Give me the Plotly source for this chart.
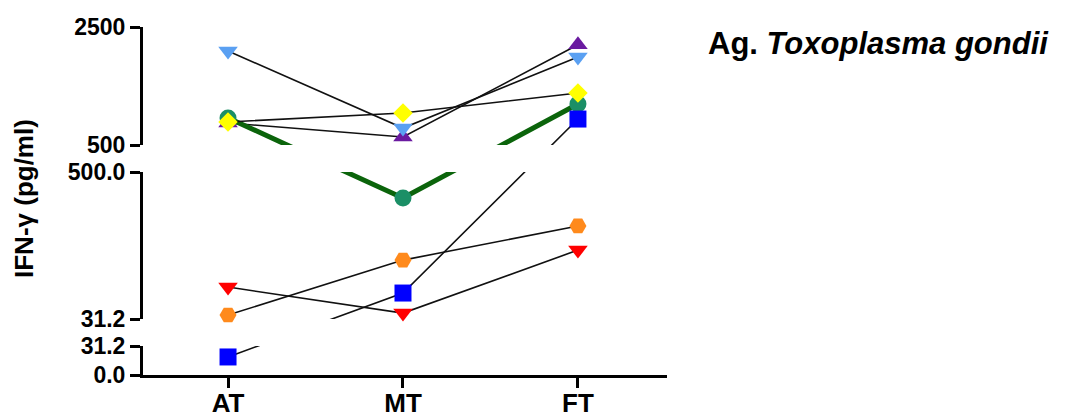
import plotly.graph_objects as go

# ---------------- data ----------------
categories = ["AT", "MT", "FT"]

light_blue_tri = [2093, 788, 1990]
purple_tri = [873, 636, 2200]
green_circle = [958, 417, 1195]
yellow_diamond = [890, 1042, 1381]
blue_square = [19.4, 114, 940]
orange_hex = [44, 219, 328]
red_tri = [133, 50, 251]

# broken y axis: value ranges of the three segments and their tick labels
seg_values = [(0.0, 31.2), (31.2, 500.0), (500.0, 2500.0)]
seg_ticktext = [["0.0", "31.2"], ["31.2", "500.0"], ["500", "2500"]]

# ---------------- layout of the broken axis ----------------
# display units (one unit = one pixel of plot height)
seg_display = [(0, 29), (56, 203), (230, 348)]
PLOT_H = 348.0


def to_display(v):
    for (lo, hi), (dlo, dhi) in zip(seg_values, seg_display):
        if v <= hi:
            return dlo + (v - lo) / (hi - lo) * (dhi - dlo)
    (lo, hi), (dlo, dhi) = seg_values[-1], seg_display[-1]
    return dlo + (v - lo) / (hi - lo) * (dhi - dlo)


def seg_index(v):
    for i, (lo, hi) in enumerate(seg_values):
        if v <= hi:
            return i
    return len(seg_values) - 1


series = [
    # name, values, symbol, marker colour, size, line colour, line width
    ("purple", purple_tri, "triangle-up", "#6a1aa0", 17, "#111111", 1.6),
    ("green", green_circle, "circle", "#1b8f66", 17, "#0b640b", 5),
    ("lightblue", light_blue_tri, "triangle-down", "#5aa0f2", 17, "#111111", 1.6),
    ("yellow", yellow_diamond, "diamond", "#ffff00", 15, "#111111", 1.6),
    ("blue", blue_square, "square", "#0000ff", 17, "#111111", 1.6),
    ("orange", orange_hex, "hexagon2", "#ff8a1c", 17, "#111111", 1.6),
    ("red", red_tri, "triangle-down", "#ff0000", 17, "#111111", 1.6),
]

axes_names = ["y", "y2", "y3"]

fig = go.Figure()

# lines: drawn on every segment so that they get clipped in the gaps
for name, vals, sym, mcol, msize, lcol, lw in series:
    disp = [to_display(v) for v in vals]
    for ax in axes_names:
        fig.add_trace(go.Scatter(
            x=categories, y=disp, mode="lines", yaxis=ax,
            line=dict(color=lcol, width=lw),
            showlegend=False, hoverinfo="skip"))

# markers: each on the segment it belongs to
for name, vals, sym, mcol, msize, lcol, lw in series:
    for si, ax in enumerate(axes_names):
        xs = [c for c, v in zip(categories, vals) if seg_index(v) == si]
        ys = [to_display(v) for v in vals if seg_index(v) == si]
        if not xs:
            continue
        fig.add_trace(go.Scatter(
            x=xs, y=ys, mode="markers", yaxis=ax, cliponaxis=False,
            marker=dict(symbol=sym, color=mcol, size=msize, line=dict(width=0)),
            showlegend=False, name=name))

FONT = "Arial, Liberation Sans, sans-serif"

axis_common = dict(
    showline=True, linecolor="black", linewidth=3,
    ticks="outside", ticklen=10, tickwidth=3, tickcolor="black",
    showgrid=False, zeroline=False, anchor="x", automargin=False,
    tickfont=dict(family=FONT, size=23, color="black", weight="bold"),
    tickmode="array",
)

layout_axes = {}
for i, ax in enumerate(axes_names):
    dlo, dhi = seg_display[i]
    key = "yaxis" if i == 0 else f"yaxis{i + 1}"
    layout_axes[key] = dict(
        axis_common,
        domain=[dlo / PLOT_H, dhi / PLOT_H],
        range=[dlo, dhi],
        tickvals=[dlo, dhi],
        ticktext=seg_ticktext[i],
    )

fig.update_layout(
    width=1067, height=420,
    margin=dict(l=143, r=400, t=27, b=45, autoexpand=False),
    paper_bgcolor="white", plot_bgcolor="white",
    xaxis=dict(
        type="category", range=[-0.486, 2.509], anchor="y", automargin=False,
        showline=True, linecolor="black", linewidth=3,
        ticks="outside", ticklen=10, tickwidth=3, tickcolor="black",
        showgrid=False, zeroline=False, ticklabelstandoff=-7,
        tickfont=dict(family=FONT, size=26, color="black", weight="bold"),
    ),
    **layout_axes,
    annotations=[
        dict(text="IFN-γ (pg/ml)", xref="paper", yref="paper",
             x=(24 - 143) / 524, y=(375 - 199) / PLOT_H,
             xanchor="center", yanchor="middle", textangle=-90, showarrow=False,
             font=dict(family=FONT, size=26, color="black", weight="bold")),
        dict(text="Ag. <i>Toxoplasma gondii</i>", xref="paper", yref="paper",
             x=(706 - 143) / 524, y=(375 - 44) / PLOT_H,
             xanchor="left", yanchor="middle", showarrow=False,
             font=dict(family=FONT, size=31, color="black", weight="bold")),
    ],
)

fig.write_html("out.html")
